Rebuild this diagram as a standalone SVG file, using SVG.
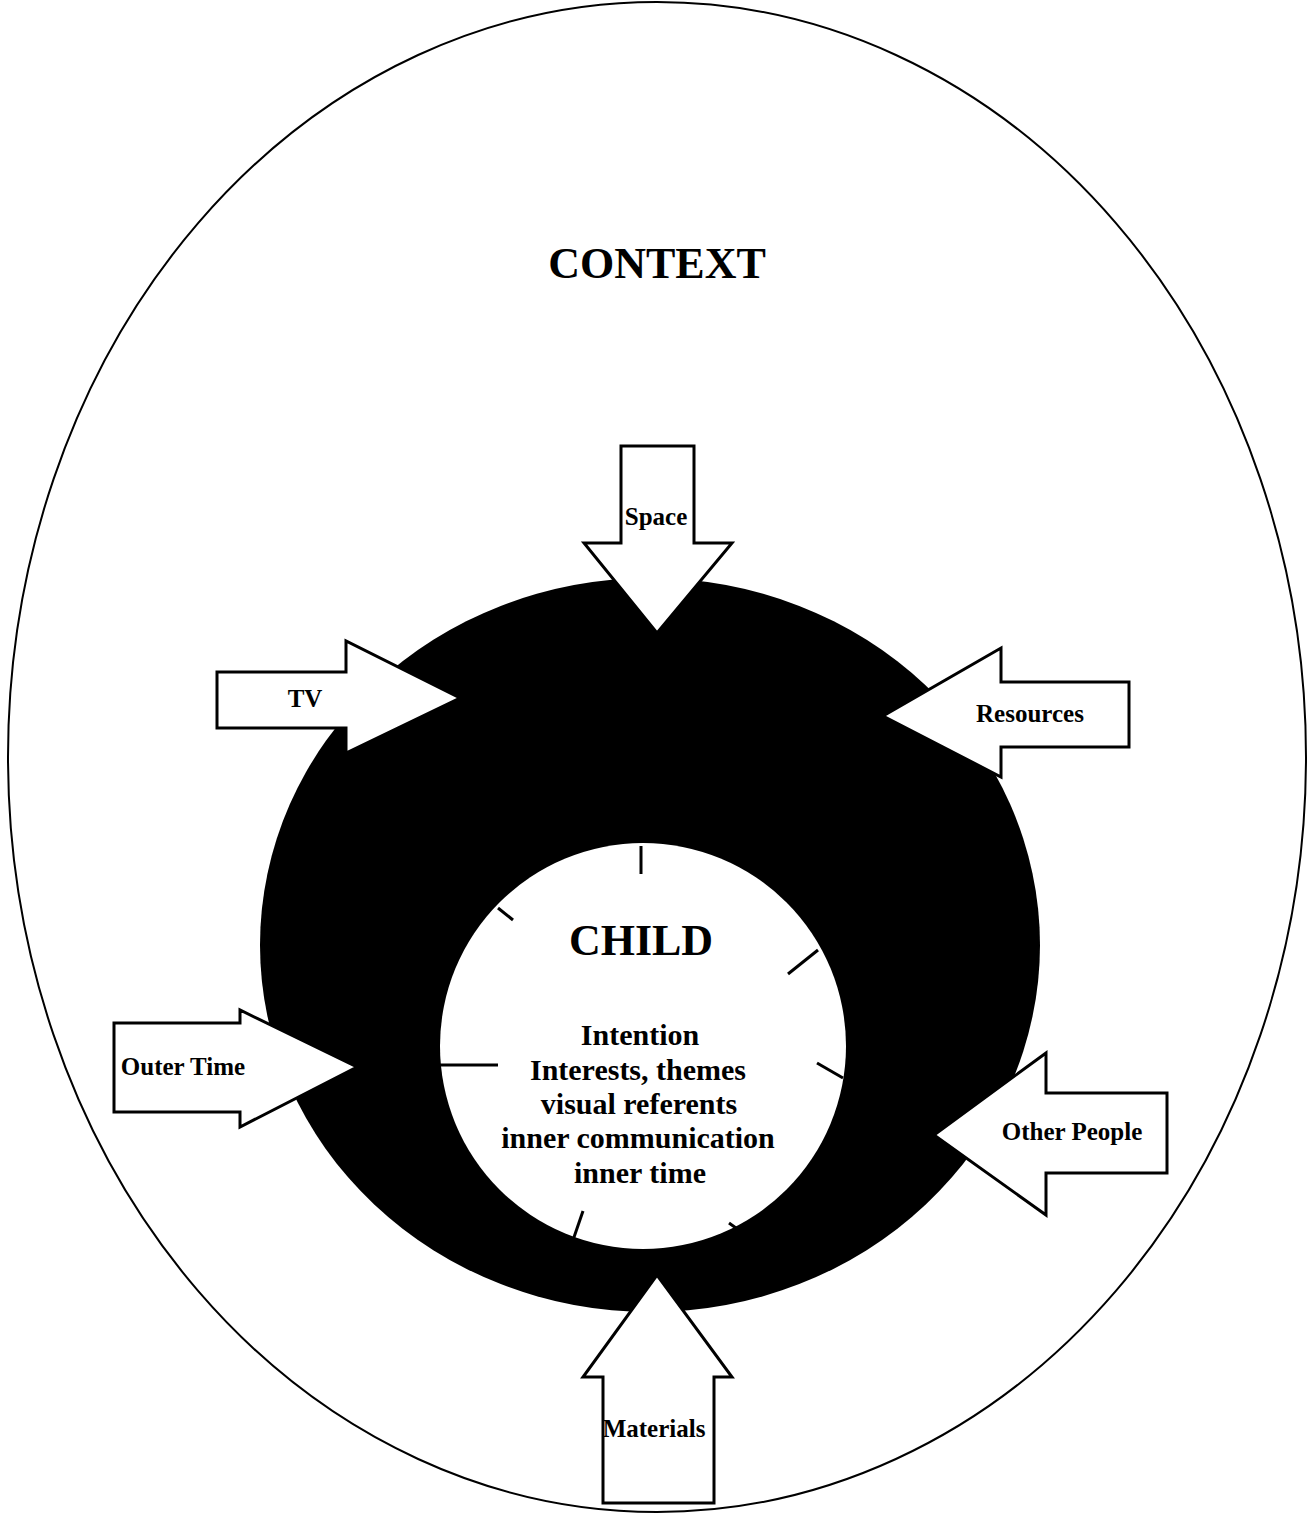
<svg xmlns="http://www.w3.org/2000/svg" width="1312" height="1515" viewBox="0 0 1312 1515">
<style>
.arrow{fill:#fff;stroke:#000;stroke-width:3;stroke-linejoin:miter}
.lbl{font-family:"Liberation Serif","DejaVu Serif",serif;font-weight:bold;font-size:25px;fill:#000;text-anchor:middle}
.body{font-family:"Liberation Serif","DejaVu Serif",serif;font-weight:bold;font-size:30px;fill:#000;text-anchor:middle}
.tick{stroke:#000;stroke-width:3;fill:none;stroke-linecap:butt}
</style>
<rect width="1312" height="1515" fill="#fff"/>
<g id="context">
<ellipse cx="657" cy="757" rx="649" ry="755" fill="#fff" stroke="#000" stroke-width="2"/>
<text x="657" y="278" font-family="Liberation Serif, DejaVu Serif, serif" font-weight="bold" font-size="44" text-anchor="middle">CONTEXT</text>
</g>
<g id="ring">
<ellipse cx="650" cy="945" rx="390" ry="367" fill="#000"/>
</g>
<g id="child">
<circle cx="643" cy="1046" r="203" fill="#fff"/>
<text x="641" y="955" font-family="Liberation Serif, DejaVu Serif, serif" font-weight="bold" font-size="44" text-anchor="middle">CHILD</text>
<text class="body" x="640" y="1045">Intention</text>
<text class="body" x="638" y="1080">Interests, themes</text>
<text class="body" x="639" y="1114">visual referents</text>
<text class="body" x="638" y="1148">inner communication</text>
<text class="body" x="640" y="1183">inner time</text>
</g>
<g id="connectors">
<line class="tick" x1="641" y1="846" x2="641" y2="874"/>
<line class="tick" x1="498" y1="908" x2="513" y2="920"/>
<line class="tick" x1="818" y1="950" x2="788" y2="974"/>
<line class="tick" x1="440" y1="1065" x2="498" y2="1065"/>
<line class="tick" x1="817" y1="1063" x2="843" y2="1078"/>
<line class="tick" x1="583" y1="1211" x2="572" y2="1243"/>
<line class="tick" x1="729" y1="1223" x2="736" y2="1228"/>
</g>
<g id="space">
<polygon class="arrow" points="621,446 694,446 694,543 732,543 657,633 584,543 621,543"/>
<text class="lbl" x="656" y="525">Space</text>
</g>
<g id="tv">
<polygon class="arrow" points="217,672 346,672 346,641 460,698 346,753 346,728 217,728"/>
<text class="lbl" x="305" y="707">TV</text>
</g>
<g id="resources">
<polygon class="arrow" points="1129,682 1001,682 1001,648 883,716 1001,777 1001,747 1129,747"/>
<text class="lbl" x="1030" y="722">Resources</text>
</g>
<g id="outer-time">
<polygon class="arrow" points="114,1023 240,1023 240,1010 357,1067 240,1127 240,1112 114,1112"/>
<text class="lbl" x="183" y="1075">Outer Time</text>
</g>
<g id="other-people">
<polygon class="arrow" points="1167,1093 1046,1093 1046,1053 934,1135 1046,1215 1046,1173 1167,1173"/>
<text class="lbl" x="1072" y="1140">Other People</text>
</g>
<g id="materials">
<polygon class="arrow" points="603,1503 603,1377 583,1377 657,1275 732,1377 714,1377 714,1503"/>
<text class="lbl" x="654" y="1437">Materials</text>
</g>
</svg>
